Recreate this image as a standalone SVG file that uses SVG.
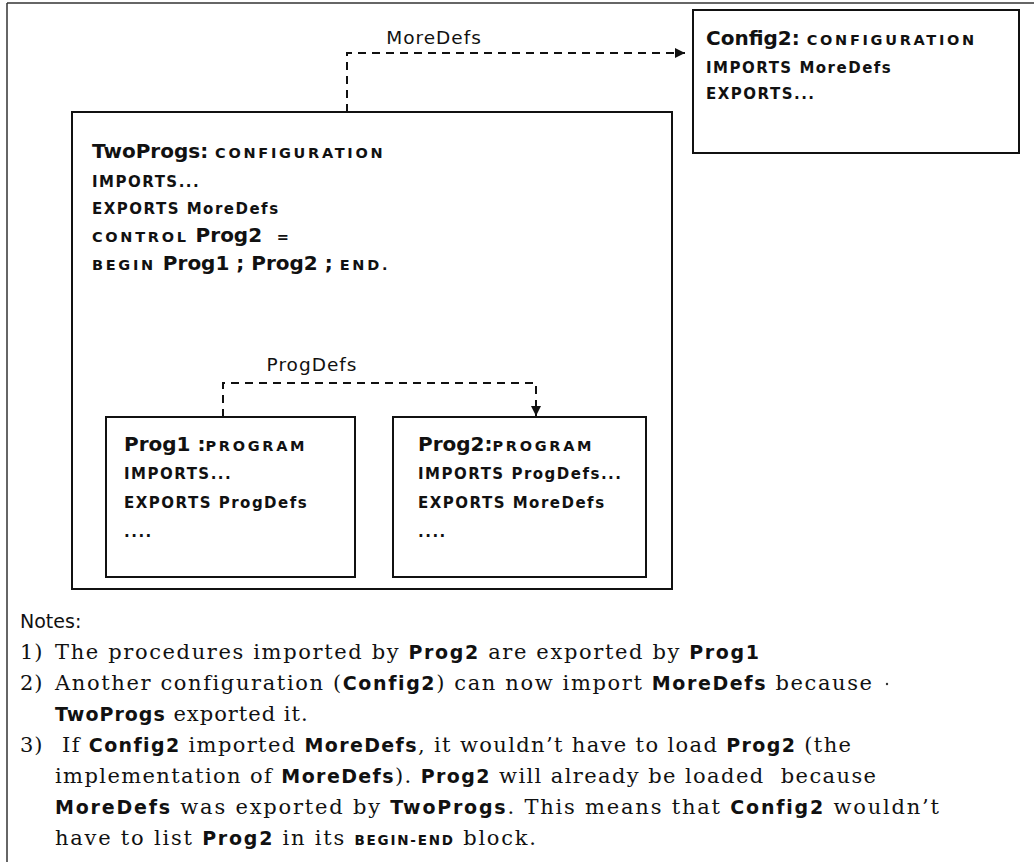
<svg xmlns="http://www.w3.org/2000/svg" width="1034" height="862" viewBox="0 0 1034 862">
<style>
  .box { fill: none; stroke: #111; stroke-width: 2; }
  .frame { fill: none; stroke: #333; stroke-width: 1.5; }
  .conn { fill: none; stroke: #111; stroke-width: 2; stroke-dasharray: 8 6; }
  .t { font-family: "DejaVu Sans", "Liberation Sans", sans-serif; font-weight: 700; fill: #111; }
  .name { font-size: 20px; letter-spacing: 0; }
  .kw { font-size: 14.5px; letter-spacing: 2.7px; }
  .ln { font-size: 15px; letter-spacing: 1.5px; }
  .lbl { font-family: "DejaVu Sans", "Liberation Sans", sans-serif; font-size: 18.5px; letter-spacing: 1px; fill: #111; }
  .hd { font-family: "DejaVu Sans", "Liberation Sans", sans-serif; font-size: 19px; fill: #111; }
  .note { font-family: "DejaVu Serif", "Liberation Serif", serif; font-size: 21px; letter-spacing: 1px; fill: #111; }
  .nb { font-family: "DejaVu Sans", "Liberation Sans", sans-serif; font-weight: 700; font-size: 19px; }
  .sc { font-family: "DejaVu Sans", "Liberation Sans", sans-serif; font-weight: 700; font-size: 13.5px; }
</style>
<defs>
  <marker id="ah" viewBox="0 0 10 10" refX="10" refY="5" markerWidth="5" markerHeight="5" markerUnits="strokeWidth" orient="auto">
    <path d="M0,0 L10,5 L0,10 Z" fill="#111"/>
  </marker>
</defs>
<g id="frame">
  <line class="frame" x1="7" y1="3" x2="1034" y2="3"/>
  <line class="frame" x1="7" y1="3" x2="7" y2="862"/>
</g>
<g id="connectors">
  <path class="conn" d="M347,112 V53 H685" marker-end="url(#ah)"/>
  <text class="lbl" x="434" y="44" text-anchor="middle">MoreDefs</text>
  <path class="conn" d="M223,417 V383 H536 V416" marker-end="url(#ah)"/>
  <text class="lbl" x="312" y="371" text-anchor="middle">ProgDefs</text>
</g>
<g id="config2">
  <rect class="box" x="693" y="10" width="326" height="143"/>
  <text class="t" x="706" y="45" xml:space="preserve"><tspan class="name">Config2: </tspan><tspan class="kw">CONFIGURATION</tspan></text>
  <text class="t ln" x="706" y="73">IMPORTS MoreDefs</text>
  <text class="t ln" x="706" y="99">EXPORTS...</text>
</g>
<g id="twoprogs">
  <rect class="box" x="72" y="112" width="600" height="477"/>
  <text class="t" x="92" y="158" xml:space="preserve"><tspan class="name">TwoProgs: </tspan><tspan class="kw">CONFIGURATION</tspan></text>
  <text class="t ln" x="92" y="187">IMPORTS...</text>
  <text class="t ln" x="92" y="214">EXPORTS MoreDefs</text>
  <text class="t" x="92" y="242" xml:space="preserve"><tspan class="kw">CONTROL</tspan><tspan class="name"> Prog2 </tspan><tspan class="kw"> =</tspan></text>
  <text class="t" x="92" y="270" xml:space="preserve"><tspan class="kw">BEGIN</tspan><tspan class="name"> Prog1 ; Prog2 ; </tspan><tspan class="kw">END.</tspan></text>
</g>
<g id="prog1">
  <rect class="box" x="106" y="417" width="249" height="160"/>
  <text class="t" x="124" y="451" xml:space="preserve"><tspan class="name">Prog1 :</tspan><tspan class="kw">PROGRAM</tspan></text>
  <text class="t ln" x="124" y="479">IMPORTS...</text>
  <text class="t ln" x="124" y="508">EXPORTS ProgDefs</text>
  <text class="t ln" x="124" y="537">....</text>
</g>
<g id="prog2">
  <rect class="box" x="393" y="417" width="253" height="160"/>
  <text class="t" x="418" y="451" xml:space="preserve"><tspan class="name">Prog2:</tspan><tspan class="kw">PROGRAM</tspan></text>
  <text class="t ln" x="418" y="479">IMPORTS ProgDefs...</text>
  <text class="t ln" x="418" y="508">EXPORTS MoreDefs</text>
  <text class="t ln" x="418" y="537">....</text>
</g>
<g id="notes">
  <text class="hd" x="20" y="628">Notes:</text>
  <text class="note" x="20" y="659">1)</text>
  <text class="note" x="55" y="659" textLength="705" xml:space="preserve">The procedures imported by <tspan class="nb">Prog2</tspan> are exported by <tspan class="nb">Prog1</tspan></text>
  <text class="note" x="20" y="690">2)</text>
  <text class="note" x="55" y="690" textLength="818" xml:space="preserve">Another configuration (<tspan class="nb">Config2</tspan>) can now import <tspan class="nb">MoreDefs</tspan> because</text>
  <circle cx="887" cy="684" r="1.2" fill="#333"/>
  <text class="note" x="55" y="721" xml:space="preserve"><tspan class="nb">TwoProgs</tspan> exported it.</text>
  <text class="note" x="20" y="752">3)</text>
  <text class="note" x="62" y="752" textLength="790" xml:space="preserve">If <tspan class="nb">Config2</tspan> imported <tspan class="nb">MoreDefs</tspan>, it wouldn’t have to load <tspan class="nb">Prog2</tspan> (the</text>
  <text class="note" x="55" y="783" textLength="822" xml:space="preserve">implementation of <tspan class="nb">MoreDefs</tspan>). <tspan class="nb">Prog2</tspan> will already be loaded  because</text>
  <text class="note" x="55" y="814" textLength="885" xml:space="preserve"><tspan class="nb">MoreDefs</tspan> was exported by <tspan class="nb">TwoProgs</tspan>. This means that <tspan class="nb">Config2</tspan> wouldn’t</text>
  <text class="note" x="55" y="845" textLength="482" xml:space="preserve">have to list <tspan class="nb">Prog2</tspan> in its <tspan class="sc">BEGIN-END</tspan> block.</text>
</g>
</svg>
